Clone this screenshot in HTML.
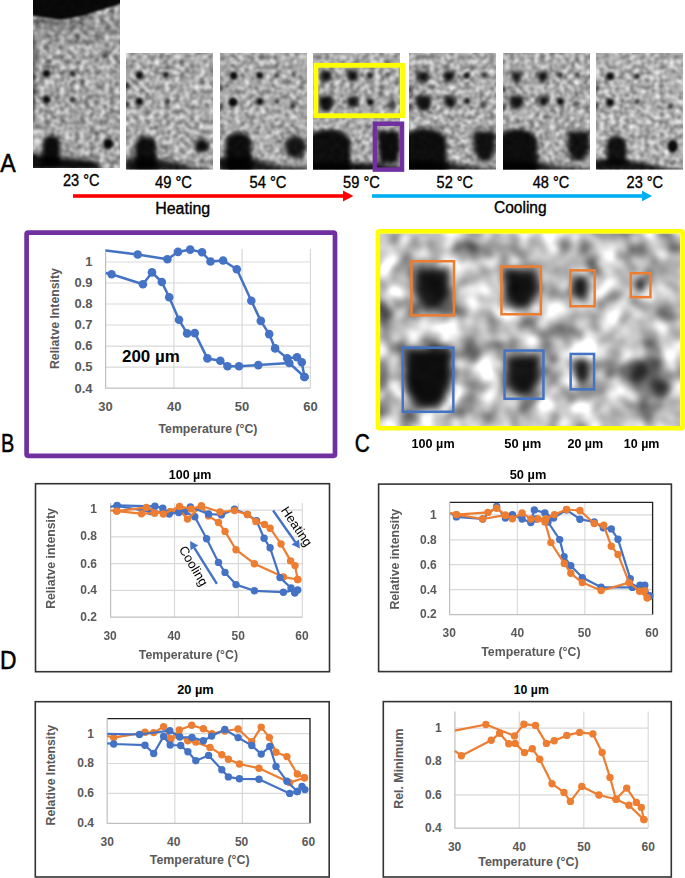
<!DOCTYPE html>
<html><head><meta charset="utf-8"><style>
html,body{margin:0;padding:0;background:#fff;}
svg{display:block;}
text{font-family:"Liberation Sans", sans-serif;}
</style></head><body>
<svg width="685" height="878" viewBox="0 0 685 878" font-family='"Liberation Sans", sans-serif'>
<defs>
<filter id="b1" x="-50%" y="-50%" width="200%" height="200%"><feGaussianBlur stdDeviation="1"/></filter><filter id="b1_4" x="-50%" y="-50%" width="200%" height="200%"><feGaussianBlur stdDeviation="1.4"/></filter><filter id="b1_5" x="-50%" y="-50%" width="200%" height="200%"><feGaussianBlur stdDeviation="1.5"/></filter><filter id="b1_8" x="-50%" y="-50%" width="200%" height="200%"><feGaussianBlur stdDeviation="1.8"/></filter><filter id="b2" x="-50%" y="-50%" width="200%" height="200%"><feGaussianBlur stdDeviation="2"/></filter><filter id="b2_2" x="-50%" y="-50%" width="200%" height="200%"><feGaussianBlur stdDeviation="2.2"/></filter><filter id="b2_5" x="-50%" y="-50%" width="200%" height="200%"><feGaussianBlur stdDeviation="2.5"/></filter><filter id="b3" x="-50%" y="-50%" width="200%" height="200%"><feGaussianBlur stdDeviation="3"/></filter><filter id="b3_5" x="-50%" y="-50%" width="200%" height="200%"><feGaussianBlur stdDeviation="3.5"/></filter><filter id="b4" x="-50%" y="-50%" width="200%" height="200%"><feGaussianBlur stdDeviation="4"/></filter><filter id="b5" x="-50%" y="-50%" width="200%" height="200%"><feGaussianBlur stdDeviation="5"/></filter>
<clipPath id="cp0"><rect x="33" y="0" width="87" height="168"/></clipPath>
<filter id="nz0" x="29" y="-4" width="95" height="176" filterUnits="userSpaceOnUse" color-interpolation-filters="sRGB">
<feTurbulence type="fractalNoise" baseFrequency="0.2" numOctaves="2" seed="3" result="t"/>
<feColorMatrix in="t" type="matrix" values="1 0 0 0 0  1 0 0 0 0  1 0 0 0 0  0 0 0 0 1"/>
<feGaussianBlur stdDeviation="0.9"/>
<feComponentTransfer><feFuncR type="linear" slope="0.92" intercept="0.19"/><feFuncG type="linear" slope="0.92" intercept="0.19"/><feFuncB type="linear" slope="0.92" intercept="0.19"/></feComponentTransfer>
</filter>
<clipPath id="cp1"><rect x="126" y="53" width="87" height="116.4"/></clipPath>
<filter id="nz1" x="122" y="49" width="95" height="124.4" filterUnits="userSpaceOnUse" color-interpolation-filters="sRGB">
<feTurbulence type="fractalNoise" baseFrequency="0.2" numOctaves="2" seed="5" result="t"/>
<feColorMatrix in="t" type="matrix" values="1 0 0 0 0  1 0 0 0 0  1 0 0 0 0  0 0 0 0 1"/>
<feGaussianBlur stdDeviation="0.9"/>
<feComponentTransfer><feFuncR type="linear" slope="0.92" intercept="0.21000000000000002"/><feFuncG type="linear" slope="0.92" intercept="0.21000000000000002"/><feFuncB type="linear" slope="0.92" intercept="0.21000000000000002"/></feComponentTransfer>
</filter>
<clipPath id="cp2"><rect x="220" y="53" width="87" height="116.4"/></clipPath>
<filter id="nz2" x="216" y="49" width="95" height="124.4" filterUnits="userSpaceOnUse" color-interpolation-filters="sRGB">
<feTurbulence type="fractalNoise" baseFrequency="0.2" numOctaves="2" seed="7" result="t"/>
<feColorMatrix in="t" type="matrix" values="1 0 0 0 0  1 0 0 0 0  1 0 0 0 0  0 0 0 0 1"/>
<feGaussianBlur stdDeviation="0.9"/>
<feComponentTransfer><feFuncR type="linear" slope="0.92" intercept="0.21000000000000002"/><feFuncG type="linear" slope="0.92" intercept="0.21000000000000002"/><feFuncB type="linear" slope="0.92" intercept="0.21000000000000002"/></feComponentTransfer>
</filter>
<clipPath id="cp3"><rect x="313" y="53" width="87" height="116.4"/></clipPath>
<filter id="nz3" x="309" y="49" width="95" height="124.4" filterUnits="userSpaceOnUse" color-interpolation-filters="sRGB">
<feTurbulence type="fractalNoise" baseFrequency="0.2" numOctaves="2" seed="9" result="t"/>
<feColorMatrix in="t" type="matrix" values="1 0 0 0 0  1 0 0 0 0  1 0 0 0 0  0 0 0 0 1"/>
<feGaussianBlur stdDeviation="0.9"/>
<feComponentTransfer><feFuncR type="linear" slope="0.92" intercept="0.21000000000000002"/><feFuncG type="linear" slope="0.92" intercept="0.21000000000000002"/><feFuncB type="linear" slope="0.92" intercept="0.21000000000000002"/></feComponentTransfer>
</filter>
<clipPath id="cp4"><rect x="409" y="53" width="87" height="116.4"/></clipPath>
<filter id="nz4" x="405" y="49" width="95" height="124.4" filterUnits="userSpaceOnUse" color-interpolation-filters="sRGB">
<feTurbulence type="fractalNoise" baseFrequency="0.2" numOctaves="2" seed="11" result="t"/>
<feColorMatrix in="t" type="matrix" values="1 0 0 0 0  1 0 0 0 0  1 0 0 0 0  0 0 0 0 1"/>
<feGaussianBlur stdDeviation="0.9"/>
<feComponentTransfer><feFuncR type="linear" slope="0.92" intercept="0.21000000000000002"/><feFuncG type="linear" slope="0.92" intercept="0.21000000000000002"/><feFuncB type="linear" slope="0.92" intercept="0.21000000000000002"/></feComponentTransfer>
</filter>
<clipPath id="cp5"><rect x="503" y="53" width="87" height="116.4"/></clipPath>
<filter id="nz5" x="499" y="49" width="95" height="124.4" filterUnits="userSpaceOnUse" color-interpolation-filters="sRGB">
<feTurbulence type="fractalNoise" baseFrequency="0.2" numOctaves="2" seed="13" result="t"/>
<feColorMatrix in="t" type="matrix" values="1 0 0 0 0  1 0 0 0 0  1 0 0 0 0  0 0 0 0 1"/>
<feGaussianBlur stdDeviation="0.9"/>
<feComponentTransfer><feFuncR type="linear" slope="0.92" intercept="0.21000000000000002"/><feFuncG type="linear" slope="0.92" intercept="0.21000000000000002"/><feFuncB type="linear" slope="0.92" intercept="0.21000000000000002"/></feComponentTransfer>
</filter>
<clipPath id="cp6"><rect x="596" y="53" width="87" height="116.5"/></clipPath>
<filter id="nz6" x="592" y="49" width="95" height="124.5" filterUnits="userSpaceOnUse" color-interpolation-filters="sRGB">
<feTurbulence type="fractalNoise" baseFrequency="0.2" numOctaves="2" seed="15" result="t"/>
<feColorMatrix in="t" type="matrix" values="1 0 0 0 0  1 0 0 0 0  1 0 0 0 0  0 0 0 0 1"/>
<feGaussianBlur stdDeviation="0.9"/>
<feComponentTransfer><feFuncR type="linear" slope="0.92" intercept="0.22999999999999993"/><feFuncG type="linear" slope="0.92" intercept="0.22999999999999993"/><feFuncB type="linear" slope="0.92" intercept="0.22999999999999993"/></feComponentTransfer>
</filter>
<clipPath id="cp7"><rect x="380" y="233.5" width="300" height="192.5"/></clipPath>
<filter id="nz7" x="376" y="229.5" width="308" height="200.5" filterUnits="userSpaceOnUse" color-interpolation-filters="sRGB">
<feTurbulence type="fractalNoise" baseFrequency="0.05" numOctaves="2" seed="21" result="t"/>
<feColorMatrix in="t" type="matrix" values="1 0 0 0 0  1 0 0 0 0  1 0 0 0 0  0 0 0 0 1"/>
<feGaussianBlur stdDeviation="2.5"/>
<feComponentTransfer><feFuncR type="linear" slope="1.3" intercept="0.09999999999999998"/><feFuncG type="linear" slope="1.3" intercept="0.09999999999999998"/><feFuncB type="linear" slope="1.3" intercept="0.09999999999999998"/></feComponentTransfer>
</filter>
</defs>
<rect width="685" height="878" fill="#fff"/>
<g clip-path="url(#cp0)">
<rect x="29" y="-4" width="95" height="176" filter="url(#nz0)"/>
<g filter="url(#b1)"><polygon points="30,-5 123,-5 123,3 119,4.2 116,5.5 106,8.3 95,11.8 85.5,15.3 71.6,18 57.7,19.4 43.9,17.3 30,15.3" fill="#000" opacity="0.95"/></g>
<g filter="url(#b3)"><polygon points="33,16 55,19 75,19 90,14 90,22 60,27 33,25" fill="#000" opacity="0.3"/><ellipse cx="37" cy="142" rx="5" ry="12" fill="#fff" opacity="0.35"/></g>
<g filter="url(#b4)"><polygon points="33,28 120,20 120,40 33,45" fill="#000" opacity="0.12"/></g>
<g filter="url(#b1_5)"><ellipse cx="46.5" cy="73.5" rx="3.8" ry="3.8" fill="#000" opacity="0.95"/><ellipse cx="72.6" cy="73.5" rx="3.0" ry="3.0" fill="#000" opacity="0.8"/><ellipse cx="46.5" cy="99.6" rx="3.8" ry="3.8" fill="#000" opacity="0.95"/><ellipse cx="72.6" cy="99.6" rx="2.8" ry="2.8" fill="#000" opacity="0.75"/><ellipse cx="104.5" cy="55" rx="2.7" ry="2.5" fill="#000" opacity="0.55"/><ellipse cx="48" cy="62" rx="3.5" ry="2.5" fill="#000" opacity="0.45"/></g>
<g filter="url(#b2)"><path d="M42.5,166 L42.5,143.5 A8.75,8 0 0 1 60,143.5 L60,166 Z" fill="#000" opacity="0.93"/><polygon points="30,152 40,155 60,158 80,159 93,161 100,165 100,170 30,170" fill="#000" opacity="0.92"/></g>
<g filter="url(#b1_8)"><ellipse cx="108.4" cy="143.6" rx="5" ry="5.2" fill="#000" opacity="0.95"/></g>
<g filter="url(#b1_4)"><ellipse cx="33.5" cy="80" rx="1.8" ry="45.3" fill="#000" opacity="0.53"/></g>
</g>
<g clip-path="url(#cp1)">
<rect x="122" y="49" width="95" height="124.4" filter="url(#nz1)"/>
<g filter="url(#b1_4)"><ellipse cx="139.6" cy="75.5" rx="3.6" ry="3.8" fill="#000" opacity="0.95"/><ellipse cx="166" cy="74.8" rx="3.0" ry="3.0" fill="#000" opacity="0.89"/><ellipse cx="139.6" cy="101.6" rx="3.6" ry="3.8" fill="#000" opacity="0.95"/><ellipse cx="166.9" cy="101.4" rx="2.5" ry="2.5" fill="#000" opacity="0.73"/><ellipse cx="127" cy="85" rx="2.1" ry="3.3" fill="#000" opacity="0.73"/><ellipse cx="127" cy="104.5" rx="2.1" ry="3.3" fill="#000" opacity="0.73"/></g>
<g filter="url(#b2_2)"><path d="M135,170 L135,145.5 A10.75,9 0 0 1 156.5,145.5 L156.5,170 Z" fill="#000" opacity="0.92"/></g>
<g filter="url(#b2)"><ellipse cx="201.6" cy="145.8" rx="6.8" ry="7.3" fill="#000" opacity="0.92"/></g>
<g filter="url(#b2_5)"><polygon points="124,158 150,158 170,161 185,165 200,168 215,170 215,172 124,172" fill="#000" opacity="0.85"/></g>
</g>
<g clip-path="url(#cp2)">
<rect x="216" y="49" width="95" height="124.4" filter="url(#nz2)"/>
<g filter="url(#b1_4)"><ellipse cx="233.6" cy="75.5" rx="4.0" ry="4.0" fill="#000" opacity="0.95"/><ellipse cx="259.8" cy="75.5" rx="3.6" ry="3.6" fill="#000" opacity="0.95"/><ellipse cx="277" cy="75.5" rx="2.1" ry="2.1" fill="#000" opacity="0.63"/><ellipse cx="293.6" cy="74.8" rx="2.1" ry="2.1" fill="#000" opacity="0.63"/><ellipse cx="233" cy="102.3" rx="4.5" ry="4.5" fill="#000" opacity="0.95"/><ellipse cx="259.8" cy="101.4" rx="3.5" ry="3.5" fill="#000" opacity="0.95"/><ellipse cx="277" cy="101.6" rx="2.6" ry="2.6" fill="#000" opacity="0.79"/><ellipse cx="292.9" cy="105.9" rx="2.6" ry="2.6" fill="#000" opacity="0.79"/><ellipse cx="221" cy="88" rx="2.1" ry="3.8" fill="#000" opacity="0.63"/><ellipse cx="221" cy="107" rx="2.1" ry="3.8" fill="#000" opacity="0.63"/></g>
<g filter="url(#b2_2)"><path d="M225.5,172 L225.5,142.5 A13.0,10 0 0 1 251.5,142.5 L251.5,172 Z" fill="#000" opacity="0.92"/></g>
<g filter="url(#b2_5)"><ellipse cx="295.5" cy="147" rx="10.5" ry="11.5" fill="#000" opacity="0.88"/><polygon points="218,157 250,157 262,162 280,166 309,168 309,172 218,172" fill="#000" opacity="0.88"/></g>
</g>
<g clip-path="url(#cp3)">
<rect x="309" y="49" width="95" height="124.4" filter="url(#nz3)"/>
<g filter="url(#b2)"><polygon points="320.5,71.0 331.5,71.0 331.5,78.2 328.5,82.0 323.5,82.0 320.5,78.2" fill="#000" opacity="0.9"/><polygon points="347.2,70.2 357.8,70.2 357.8,77.4 354.9,81.2 350.1,81.2 347.2,77.4" fill="#000" opacity="0.9"/><polygon points="319.2,95.5 332.8,95.5 332.8,105.9 329.1,111.5 322.9,111.5 319.2,105.9" fill="#000" opacity="0.9"/><polygon points="347.3,96.5 358.3,96.5 358.3,103.7 355.3,107.5 350.3,107.5 347.3,103.7" fill="#000" opacity="0.9"/><polygon points="377,131 399,131 400,150 397,163 380,163" fill="#000" opacity="0.93"/><polygon points="310,163 372,163 400,167 400,172 310,172" fill="#000" opacity="0.9"/></g>
<g filter="url(#b1_4)"><ellipse cx="370" cy="75.7" rx="3.1" ry="3.1" fill="#000" opacity="0.84"/><ellipse cx="387.8" cy="75" rx="2.3" ry="2.3" fill="#000" opacity="0.63"/><ellipse cx="370.3" cy="102" rx="3.5" ry="3.5" fill="#000" opacity="0.95"/><ellipse cx="391.5" cy="105" rx="4.8" ry="4.8" fill="#000" opacity="0.51"/><ellipse cx="380.5" cy="93.3" rx="2.5" ry="2.5" fill="#000" opacity="0.47"/></g>
<g filter="url(#b2_2)"><path d="M306,175 L306,142.5 A22.25,13 0 0 1 350.5,142.5 L350.5,175 Z" fill="#000" opacity="0.92"/></g>
</g>
<g clip-path="url(#cp4)">
<rect x="405" y="49" width="95" height="124.4" filter="url(#nz4)"/>
<g filter="url(#b2)"><polygon points="417.5,71.2 428.5,71.2 428.5,78.7 425.5,82.8 420.5,82.8 417.5,78.7" fill="#000" opacity="0.9"/><polygon points="443.5,70.7 454.1,70.7 454.1,77.9 451.2,81.7 446.4,81.7 443.5,77.9" fill="#000" opacity="0.9"/><polygon points="415.9,95.5 430.9,95.5 430.9,105.2 426.8,110.5 420.0,110.5 415.9,105.2" fill="#000" opacity="0.9"/><polygon points="444.7,96.5 455.7,96.5 455.7,104.0 452.7,108.1 447.7,108.1 444.7,104.0" fill="#000" opacity="0.9"/></g>
<g filter="url(#b1_4)"><ellipse cx="466.8" cy="75.5" rx="3.1" ry="3.1" fill="#000" opacity="0.89"/><ellipse cx="484" cy="74.8" rx="2.6" ry="2.6" fill="#000" opacity="0.73"/><ellipse cx="467.1" cy="101" rx="3.1" ry="3.1" fill="#000" opacity="0.89"/><ellipse cx="484" cy="104.5" rx="3.3" ry="3.3" fill="#000" opacity="0.47"/><ellipse cx="410" cy="90" rx="2.1" ry="3.8" fill="#000" opacity="0.63"/><ellipse cx="410" cy="107" rx="2.1" ry="3.8" fill="#000" opacity="0.63"/></g>
<g filter="url(#b2_2)"><path d="M403,175 L403,141.5 A21.75,13 0 0 1 446.5,141.5 L446.5,175 Z" fill="#000" opacity="0.92"/></g>
<g filter="url(#b2_5)"><polygon points="473.5,131.0 495.5,131.0 495.5,150.5 489.4,161.0 479.6,161.0 473.5,150.5" fill="#000" opacity="0.9"/><polygon points="406,161 450,162 465,166 498,169 498,172 406,172" fill="#000" opacity="0.85"/></g>
</g>
<g clip-path="url(#cp5)">
<rect x="499" y="49" width="95" height="124.4" filter="url(#nz5)"/>
<g filter="url(#b2)"><polygon points="511.8,72.0 521.4,72.0 521.4,78.5 518.8,82.0 514.4,82.0 511.8,78.5" fill="#000" opacity="0.9"/><polygon points="538.0,71.2 547.6,71.2 547.6,77.7 545.0,81.2 540.6,81.2 538.0,77.7" fill="#000" opacity="0.9"/><polygon points="510.1,95.8 523.1,95.8 523.1,104.2 519.5,108.8 513.7,108.8 510.1,104.2" fill="#000" opacity="0.9"/><polygon points="538.7,96.0 548.3,96.0 548.3,102.5 545.7,106.0 541.3,106.0 538.7,102.5" fill="#000" opacity="0.9"/></g>
<g filter="url(#b1_4)"><ellipse cx="560.4" cy="74.8" rx="2.6" ry="2.6" fill="#000" opacity="0.79"/><ellipse cx="577.3" cy="74.8" rx="2.2" ry="2.2" fill="#000" opacity="0.63"/><ellipse cx="560.4" cy="101.4" rx="3.5" ry="3.5" fill="#000" opacity="0.95"/><ellipse cx="576" cy="104.5" rx="3.3" ry="3.3" fill="#000" opacity="0.47"/><ellipse cx="504" cy="90" rx="2.1" ry="3.8" fill="#000" opacity="0.63"/><ellipse cx="504" cy="107" rx="2.1" ry="3.8" fill="#000" opacity="0.63"/></g>
<g filter="url(#b2_2)"><path d="M497,175 L497,142 A20.25,13 0 0 1 537.5,142 L537.5,175 Z" fill="#000" opacity="0.92"/></g>
<g filter="url(#b2_5)"><polygon points="567.5,131.0 589.5,131.0 589.5,150.5 583.5,161.0 573.5,161.0 567.5,150.5" fill="#000" opacity="0.9"/><polygon points="500,161 540,162 555,166 592,169 592,172 500,172" fill="#000" opacity="0.85"/></g>
</g>
<g clip-path="url(#cp6)">
<rect x="592" y="49" width="95" height="124.5" filter="url(#nz6)"/>
<g filter="url(#b1_4)"><ellipse cx="610.1" cy="76.3" rx="3.9" ry="3.9" fill="#000" opacity="0.95"/><ellipse cx="637" cy="76.3" rx="2.9" ry="2.9" fill="#000" opacity="0.84"/><ellipse cx="610.1" cy="102.4" rx="3.9" ry="3.9" fill="#000" opacity="0.95"/><ellipse cx="637.2" cy="101.7" rx="2.5" ry="2.5" fill="#000" opacity="0.73"/><ellipse cx="670.4" cy="106" rx="2.5" ry="2.5" fill="#000" opacity="0.68"/><ellipse cx="597" cy="88" rx="2.1" ry="3.8" fill="#000" opacity="0.63"/><ellipse cx="597" cy="106" rx="2.1" ry="3.8" fill="#000" opacity="0.63"/></g>
<g filter="url(#b2_2)"><path d="M606.5,165 L606.5,144.5 A10.0,9 0 0 1 626.5,144.5 L626.5,165 Z" fill="#000" opacity="0.9"/></g>
<g filter="url(#b1_8)"><ellipse cx="672.8" cy="146" rx="5.3" ry="6.8" fill="#000" opacity="0.93"/></g>
<g filter="url(#b2)"><polygon points="593,159 625,160 645,163 660,167 686,169.5 686,172 593,172" fill="#000" opacity="0.88"/></g>
</g>
<rect x="315.9" y="65.3" width="86.7" height="50.4" fill="none" stroke="#FFFF00" stroke-width="4.8"/>
<rect x="374.9" y="123.7" width="27.1" height="45.9" fill="none" stroke="#7030A0" stroke-width="4.5"/>
<text x="81.2" y="185.7" font-size="16" text-anchor="middle" font-weight="normal" fill="#000" textLength="36.5" lengthAdjust="spacingAndGlyphs" stroke="#000" stroke-width="0.35">23 °C</text>
<text x="173.5" y="187.9" font-size="16" text-anchor="middle" font-weight="normal" fill="#000" textLength="37" lengthAdjust="spacingAndGlyphs" stroke="#000" stroke-width="0.35">49 °C</text>
<text x="268.0" y="187.9" font-size="16" text-anchor="middle" font-weight="normal" fill="#000" textLength="37" lengthAdjust="spacingAndGlyphs" stroke="#000" stroke-width="0.35">54 °C</text>
<text x="361.5" y="187.9" font-size="16" text-anchor="middle" font-weight="normal" fill="#000" textLength="36.8" lengthAdjust="spacingAndGlyphs" stroke="#000" stroke-width="0.35">59 °C</text>
<text x="454.8" y="187.9" font-size="16" text-anchor="middle" font-weight="normal" fill="#000" textLength="36.5" lengthAdjust="spacingAndGlyphs" stroke="#000" stroke-width="0.35">52 °C</text>
<text x="551.0" y="187.9" font-size="16" text-anchor="middle" font-weight="normal" fill="#000" textLength="36.5" lengthAdjust="spacingAndGlyphs" stroke="#000" stroke-width="0.35">48 °C</text>
<text x="644.8" y="187.9" font-size="16" text-anchor="middle" font-weight="normal" fill="#000" textLength="36.5" lengthAdjust="spacingAndGlyphs" stroke="#000" stroke-width="0.35">23 °C</text>
<rect x="73" y="194.2" width="271" height="3.6" fill="#FF0000"/>
<polygon points="343,190.6 353.4,196 343,201.4" fill="#FF0000"/>
<rect x="372" y="194.2" width="271" height="3.6" fill="#00B0F0"/>
<polygon points="642,190.8 652.2,196 642,201.2" fill="#00B0F0"/>
<text x="155.2" y="213.6" font-size="16" text-anchor="start" font-weight="normal" fill="#000" textLength="55" lengthAdjust="spacingAndGlyphs" stroke="#000" stroke-width="0.35">Heating</text>
<text x="494.0" y="213.0" font-size="16" text-anchor="start" font-weight="normal" fill="#000" textLength="52.6" lengthAdjust="spacingAndGlyphs" stroke="#000" stroke-width="0.35">Cooling</text>
<text x="0.3" y="171.8" font-size="25" text-anchor="start" font-weight="normal" fill="#000" textLength="15.5" lengthAdjust="spacingAndGlyphs" stroke="#000" stroke-width="0.5">A</text>
<text x="1.0" y="452.0" font-size="25" text-anchor="start" font-weight="normal" fill="#000" textLength="13.3" lengthAdjust="spacingAndGlyphs" stroke="#000" stroke-width="0.5">B</text>
<text x="354.8" y="452.4" font-size="25" text-anchor="start" font-weight="normal" fill="#000" textLength="15" lengthAdjust="spacingAndGlyphs" stroke="#000" stroke-width="0.5">C</text>
<text x="0.0" y="669.0" font-size="25" text-anchor="start" font-weight="normal" fill="#000" textLength="16.5" lengthAdjust="spacingAndGlyphs" stroke="#000" stroke-width="0.5">D</text>
<rect x="26.6" y="232.6" width="308.4" height="223.2" rx="1.5" fill="none" stroke="#7030A0" stroke-width="4.7"/>
<line x1="105.6" x2="310.4" y1="367.1" y2="367.1" stroke="#D9D9D9" stroke-width="1.2"/>
<line x1="105.6" x2="310.4" y1="346.1" y2="346.1" stroke="#D9D9D9" stroke-width="1.2"/>
<line x1="105.6" x2="310.4" y1="325.0" y2="325.0" stroke="#D9D9D9" stroke-width="1.2"/>
<line x1="105.6" x2="310.4" y1="304.0" y2="304.0" stroke="#D9D9D9" stroke-width="1.2"/>
<line x1="105.6" x2="310.4" y1="283.0" y2="283.0" stroke="#D9D9D9" stroke-width="1.2"/>
<line x1="105.6" x2="310.4" y1="262.0" y2="262.0" stroke="#D9D9D9" stroke-width="1.2"/>
<line x1="173.9" x2="173.9" y1="249" y2="388.1" stroke="#D9D9D9" stroke-width="1.2"/>
<line x1="242.1" x2="242.1" y1="249" y2="388.1" stroke="#D9D9D9" stroke-width="1.2"/>
<line x1="310.4" x2="310.4" y1="249" y2="388.1" stroke="#D9D9D9" stroke-width="1.2"/>
<line x1="105.6" x2="105.6" y1="249" y2="388.6" stroke="#BFBFBF" stroke-width="1.2"/>
<line x1="105.6" x2="310.4" y1="388.1" y2="388.1" stroke="#BFBFBF" stroke-width="1.2"/>
<text x="92.5" y="265.6" font-size="13" text-anchor="end" font-weight="bold" fill="#595959" >1</text>
<text x="92.5" y="286.9" font-size="13" text-anchor="end" font-weight="bold" fill="#595959" >0.9</text>
<text x="92.5" y="308.0" font-size="13" text-anchor="end" font-weight="bold" fill="#595959" >0.8</text>
<text x="92.5" y="329.3" font-size="13" text-anchor="end" font-weight="bold" fill="#595959" >0.7</text>
<text x="92.5" y="350.3" font-size="13" text-anchor="end" font-weight="bold" fill="#595959" >0.6</text>
<text x="92.5" y="371.3" font-size="13" text-anchor="end" font-weight="bold" fill="#595959" >0.5</text>
<text x="92.5" y="392.6" font-size="13" text-anchor="end" font-weight="bold" fill="#595959" >0.4</text>
<text x="105.4" y="410.8" font-size="13" text-anchor="middle" font-weight="bold" fill="#595959" >30</text>
<text x="174.2" y="410.8" font-size="13" text-anchor="middle" font-weight="bold" fill="#595959" >40</text>
<text x="242.0" y="410.8" font-size="13" text-anchor="middle" font-weight="bold" fill="#595959" >50</text>
<text x="310.4" y="410.8" font-size="13" text-anchor="middle" font-weight="bold" fill="#595959" >60</text>
<text x="158.5" y="432.8" font-size="12.5" text-anchor="start" font-weight="bold" fill="#595959" textLength="98.9" lengthAdjust="spacingAndGlyphs" >Temperature (°C)</text>
<text transform="translate(59,318.6) rotate(-90)" x="0" y="0" font-size="12.5" text-anchor="middle" font-weight="bold" fill="#595959" textLength="100.8" lengthAdjust="spacingAndGlyphs">Reliatve Intensity</text>
<text x="122.0" y="362.0" font-size="16" text-anchor="start" font-weight="bold" fill="#000" textLength="57.7" lengthAdjust="spacingAndGlyphs" >200 µm</text>
<polyline points="105.8,250.5 137.7,254.5 167.4,259.3 178.0,251.9 190.2,249.6 202.0,252.3 210.5,261.5 223.1,260.5 236.8,269.3 251.3,300.8 260.8,320.9 269.2,334.1 275.1,348.4 287.2,358.2 297.0,357.2 301.8,362.3 304.5,377.0" fill="none" stroke="#4472C4" stroke-width="2.5" stroke-linejoin="round"/>
<circle cx="137.7" cy="254.5" r="4.3" fill="#4472C4"/>
<circle cx="167.4" cy="259.3" r="4.3" fill="#4472C4"/>
<circle cx="178.0" cy="251.9" r="4.3" fill="#4472C4"/>
<circle cx="190.2" cy="249.6" r="4.3" fill="#4472C4"/>
<circle cx="202.0" cy="252.3" r="4.3" fill="#4472C4"/>
<circle cx="210.5" cy="261.5" r="4.3" fill="#4472C4"/>
<circle cx="223.1" cy="260.5" r="4.3" fill="#4472C4"/>
<circle cx="236.8" cy="269.3" r="4.3" fill="#4472C4"/>
<circle cx="251.3" cy="300.8" r="4.3" fill="#4472C4"/>
<circle cx="260.8" cy="320.9" r="4.3" fill="#4472C4"/>
<circle cx="269.2" cy="334.1" r="4.3" fill="#4472C4"/>
<circle cx="275.1" cy="348.4" r="4.3" fill="#4472C4"/>
<circle cx="287.2" cy="358.2" r="4.3" fill="#4472C4"/>
<circle cx="297.0" cy="357.2" r="4.3" fill="#4472C4"/>
<circle cx="301.8" cy="362.3" r="4.3" fill="#4472C4"/>
<circle cx="304.5" cy="377.0" r="4.3" fill="#4472C4"/>
<polyline points="105.8,273.0 111.6,274.3 142.9,284.3 152.0,272.4 161.8,282.0 169.2,297.3 179.0,319.8 187.1,333.4 194.8,333.1 207.4,358.4 220.3,360.7 227.5,366.3 239.0,366.3 258.3,365.1 289.3,363.0 304.5,377.0" fill="none" stroke="#4472C4" stroke-width="2.5" stroke-linejoin="round"/>
<circle cx="111.6" cy="274.3" r="4.3" fill="#4472C4"/>
<circle cx="142.9" cy="284.3" r="4.3" fill="#4472C4"/>
<circle cx="152.0" cy="272.4" r="4.3" fill="#4472C4"/>
<circle cx="161.8" cy="282.0" r="4.3" fill="#4472C4"/>
<circle cx="169.2" cy="297.3" r="4.3" fill="#4472C4"/>
<circle cx="179.0" cy="319.8" r="4.3" fill="#4472C4"/>
<circle cx="187.1" cy="333.4" r="4.3" fill="#4472C4"/>
<circle cx="194.8" cy="333.1" r="4.3" fill="#4472C4"/>
<circle cx="207.4" cy="358.4" r="4.3" fill="#4472C4"/>
<circle cx="220.3" cy="360.7" r="4.3" fill="#4472C4"/>
<circle cx="227.5" cy="366.3" r="4.3" fill="#4472C4"/>
<circle cx="239.0" cy="366.3" r="4.3" fill="#4472C4"/>
<circle cx="258.3" cy="365.1" r="4.3" fill="#4472C4"/>
<circle cx="289.3" cy="363.0" r="4.3" fill="#4472C4"/>
<circle cx="304.5" cy="377.0" r="4.3" fill="#4472C4"/>
<g clip-path="url(#cp7)">
<rect x="376" y="229.5" width="308" height="200.5" filter="url(#nz7)"/>
<g filter="url(#b4)"><polygon points="415.0,267.5 450.0,267.5 450.0,295.4 440.4,310.5 424.6,310.5 415.0,295.4" fill="#000" opacity="0.9"/><polygon points="505.5,268.5 537.5,268.5 537.5,295.1 528.7,309.5 514.3,309.5 505.5,295.1" fill="#000" opacity="0.9"/><polygon points="404.5,348.0 451.5,348.0 451.5,387.0 438.6,408.0 417.4,408.0 404.5,387.0" fill="#000" opacity="0.93"/><polygon points="506.0,355.0 540.0,355.0 540.0,381.0 530.6,395.0 515.4,395.0 506.0,381.0" fill="#000" opacity="0.9"/></g>
<g filter="url(#b3_5)"><ellipse cx="581" cy="287" rx="7.5" ry="12" fill="#000" opacity="0.85"/><ellipse cx="582" cy="371" rx="7.5" ry="12" fill="#000" opacity="0.85"/><ellipse cx="383" cy="312" rx="5" ry="14" fill="#000" opacity="0.55"/><ellipse cx="383" cy="378" rx="5" ry="13" fill="#000" opacity="0.55"/></g>
<g filter="url(#b3)"><ellipse cx="640" cy="285" rx="5.5" ry="7" fill="#000" opacity="0.8"/><ellipse cx="640" cy="372" rx="8" ry="10" fill="#000" opacity="0.5"/><ellipse cx="662" cy="390" rx="8" ry="9" fill="#000" opacity="0.5"/><ellipse cx="655" cy="362" rx="6" ry="6" fill="#000" opacity="0.4"/></g>
<g filter="url(#b5)"><ellipse cx="650" cy="380" rx="20" ry="22" fill="#000" opacity="0.5"/></g>
</g>
<rect x="377.9" y="231.2" width="304.7" height="197" rx="1.5" fill="none" stroke="#FFFF00" stroke-width="4.6"/>
<rect x="411.45" y="261.25" width="42.50" height="54.10" fill="none" stroke="#ED7D31" stroke-width="2.5"/>
<rect x="501.45" y="266.55" width="39.40" height="47.70" fill="none" stroke="#ED7D31" stroke-width="2.5"/>
<rect x="570.35" y="270.35" width="24.30" height="35.90" fill="none" stroke="#ED7D31" stroke-width="2.5"/>
<rect x="630.75" y="273.25" width="19.70" height="23.90" fill="none" stroke="#ED7D31" stroke-width="2.5"/>
<rect x="402.75" y="347.65" width="50.60" height="64.10" fill="none" stroke="#4472C4" stroke-width="2.5"/>
<rect x="504.55" y="350.55" width="38.90" height="48.20" fill="none" stroke="#4472C4" stroke-width="2.5"/>
<rect x="570.65" y="353.95" width="23.40" height="35.40" fill="none" stroke="#4472C4" stroke-width="2.5"/>
<text x="411.6" y="448.1" font-size="12" text-anchor="start" font-weight="bold" fill="#000" textLength="43.0" lengthAdjust="spacingAndGlyphs" >100 µm</text>
<text x="504.2" y="448.1" font-size="12" text-anchor="start" font-weight="bold" fill="#000" textLength="37.0" lengthAdjust="spacingAndGlyphs" >50 µm</text>
<text x="567.4" y="448.1" font-size="12" text-anchor="start" font-weight="bold" fill="#000" textLength="35.9" lengthAdjust="spacingAndGlyphs" >20 µm</text>
<text x="623.8" y="448.1" font-size="12" text-anchor="start" font-weight="bold" fill="#000" textLength="35.6" lengthAdjust="spacingAndGlyphs" >10 µm</text>
<rect x="35.5" y="483.7" width="294.0" height="188.00000000000006" fill="none" stroke="#333" stroke-width="1.6"/>
<text x="168.8" y="479.0" font-size="12" text-anchor="start" font-weight="bold" fill="#000" textLength="42.6" lengthAdjust="spacingAndGlyphs" >100 µm</text>
<line x1="110.6" x2="302.3" y1="590.4" y2="590.4" stroke="#D9D9D9" stroke-width="1.2"/>
<line x1="110.6" x2="302.3" y1="563.6" y2="563.6" stroke="#D9D9D9" stroke-width="1.2"/>
<line x1="110.6" x2="302.3" y1="536.9" y2="536.9" stroke="#D9D9D9" stroke-width="1.2"/>
<line x1="110.6" x2="302.3" y1="510.1" y2="510.1" stroke="#D9D9D9" stroke-width="1.2"/>
<line x1="174.5" x2="174.5" y1="503.0" y2="617.1" stroke="#D9D9D9" stroke-width="1.2"/>
<line x1="238.4" x2="238.4" y1="503.0" y2="617.1" stroke="#D9D9D9" stroke-width="1.2"/>
<line x1="302.3" x2="302.3" y1="503.0" y2="617.1" stroke="#D9D9D9" stroke-width="1.2"/>
<line x1="110.6" x2="110.6" y1="503.0" y2="617.6" stroke="#BFBFBF" stroke-width="1.2"/>
<line x1="110.6" x2="302.3" y1="617.1" y2="617.1" stroke="#BFBFBF" stroke-width="1.2"/>
<text x="97.0" y="620.6" font-size="12" text-anchor="end" font-weight="bold" fill="#595959" >0.2</text>
<text x="97.0" y="593.8" font-size="12" text-anchor="end" font-weight="bold" fill="#595959" >0.4</text>
<text x="97.0" y="567.5" font-size="12" text-anchor="end" font-weight="bold" fill="#595959" >0.6</text>
<text x="97.0" y="540.0" font-size="12" text-anchor="end" font-weight="bold" fill="#595959" >0.8</text>
<text x="97.0" y="513.0" font-size="12" text-anchor="end" font-weight="bold" fill="#595959" >1</text>
<text x="110.1" y="639.7" font-size="12" text-anchor="middle" font-weight="bold" fill="#595959" >30</text>
<text x="174.1" y="639.7" font-size="12" text-anchor="middle" font-weight="bold" fill="#595959" >40</text>
<text x="238.2" y="639.7" font-size="12" text-anchor="middle" font-weight="bold" fill="#595959" >50</text>
<text x="302.0" y="639.7" font-size="12" text-anchor="middle" font-weight="bold" fill="#595959" >60</text>
<text x="138.8" y="658.7" font-size="12" text-anchor="start" font-weight="bold" fill="#595959" textLength="99.2" lengthAdjust="spacingAndGlyphs" >Temperature (°C)</text>
<text transform="translate(54.6,558.5) rotate(-90)" x="0" y="0" font-size="12" text-anchor="middle" font-weight="bold" fill="#595959" textLength="100.5" lengthAdjust="spacingAndGlyphs">Reliatve intensity</text>
<svg x="104.6" y="497.0" width="203.7" height="126.1" overflow="hidden"><g transform="translate(-104.6,-497.0)">
<polyline points="294.8,592.7 297.7,589.9 283.4,592.2 254.4,590.8 236.0,584.6 225.0,572.4 218.5,562.4 206.6,538.7 194.8,516.8 185.0,512.0 170.0,512.0 150.5,511.6 117.0,506.0" fill="none" stroke="#4472C4" stroke-width="2.2" stroke-linejoin="round"/>
<circle cx="294.8" cy="592.7" r="3.7" fill="#4472C4"/>
<circle cx="297.7" cy="589.9" r="3.7" fill="#4472C4"/>
<circle cx="283.4" cy="592.2" r="3.7" fill="#4472C4"/>
<circle cx="254.4" cy="590.8" r="3.7" fill="#4472C4"/>
<circle cx="236.0" cy="584.6" r="3.7" fill="#4472C4"/>
<circle cx="225.0" cy="572.4" r="3.7" fill="#4472C4"/>
<circle cx="218.5" cy="562.4" r="3.7" fill="#4472C4"/>
<circle cx="206.6" cy="538.7" r="3.7" fill="#4472C4"/>
<circle cx="194.8" cy="516.8" r="3.7" fill="#4472C4"/>
<circle cx="185.0" cy="512.0" r="3.7" fill="#4472C4"/>
<circle cx="170.0" cy="512.0" r="3.7" fill="#4472C4"/>
<circle cx="150.5" cy="511.6" r="3.7" fill="#4472C4"/>
<circle cx="117.0" cy="506.0" r="3.7" fill="#4472C4"/>
<polyline points="297.7,579.5 283.4,577.0 254.4,563.7 236.0,549.7 225.0,531.4 218.5,522.5 208.5,515.9 201.4,506.0 187.5,519.1 179.5,510.0 170.0,511.8 154.6,513.2 141.5,513.7 116.7,511.1" fill="none" stroke="#ED7D31" stroke-width="2.2" stroke-linejoin="round"/>
<circle cx="297.7" cy="579.5" r="3.7" fill="#ED7D31"/>
<circle cx="283.4" cy="577.0" r="3.7" fill="#ED7D31"/>
<circle cx="254.4" cy="563.7" r="3.7" fill="#ED7D31"/>
<circle cx="236.0" cy="549.7" r="3.7" fill="#ED7D31"/>
<circle cx="225.0" cy="531.4" r="3.7" fill="#ED7D31"/>
<circle cx="218.5" cy="522.5" r="3.7" fill="#ED7D31"/>
<circle cx="208.5" cy="515.9" r="3.7" fill="#ED7D31"/>
<circle cx="201.4" cy="506.0" r="3.7" fill="#ED7D31"/>
<circle cx="187.5" cy="519.1" r="3.7" fill="#ED7D31"/>
<circle cx="179.5" cy="510.0" r="3.7" fill="#ED7D31"/>
<circle cx="170.0" cy="511.8" r="3.7" fill="#ED7D31"/>
<circle cx="154.6" cy="513.2" r="3.7" fill="#ED7D31"/>
<circle cx="141.5" cy="513.7" r="3.7" fill="#ED7D31"/>
<circle cx="116.7" cy="511.1" r="3.7" fill="#ED7D31"/>
<polyline points="110.4,506.8 117.1,505.4 154.9,506.3 162.8,508.1 169.2,514.0 178.7,512.5 190.4,507.0 208.5,514.0 221.4,514.9 234.5,509.2 247.4,514.5 256.5,520.6 264.1,538.3 270.1,547.8 280.0,577.6 291.0,588.0 294.8,592.7" fill="none" stroke="#4472C4" stroke-width="2.2" stroke-linejoin="round"/>
<circle cx="117.1" cy="505.4" r="3.7" fill="#4472C4"/>
<circle cx="154.9" cy="506.3" r="3.7" fill="#4472C4"/>
<circle cx="162.8" cy="508.1" r="3.7" fill="#4472C4"/>
<circle cx="169.2" cy="514.0" r="3.7" fill="#4472C4"/>
<circle cx="178.7" cy="512.5" r="3.7" fill="#4472C4"/>
<circle cx="190.4" cy="507.0" r="3.7" fill="#4472C4"/>
<circle cx="208.5" cy="514.0" r="3.7" fill="#4472C4"/>
<circle cx="221.4" cy="514.9" r="3.7" fill="#4472C4"/>
<circle cx="234.5" cy="509.2" r="3.7" fill="#4472C4"/>
<circle cx="247.4" cy="514.5" r="3.7" fill="#4472C4"/>
<circle cx="256.5" cy="520.6" r="3.7" fill="#4472C4"/>
<circle cx="264.1" cy="538.3" r="3.7" fill="#4472C4"/>
<circle cx="270.1" cy="547.8" r="3.7" fill="#4472C4"/>
<circle cx="280.0" cy="577.6" r="3.7" fill="#4472C4"/>
<circle cx="291.0" cy="588.0" r="3.7" fill="#4472C4"/>
<circle cx="294.8" cy="592.7" r="3.7" fill="#4472C4"/>
<polyline points="110.4,510.3 116.7,511.1 146.3,507.4 163.4,514.0 179.5,506.4 191.1,508.9 201.4,506.0 220.0,512.0 234.5,510.6 247.4,514.5 255.9,521.6 264.5,524.4 270.1,528.2 281.0,544.0 290.6,560.9 295.0,565.6 297.7,579.5" fill="none" stroke="#ED7D31" stroke-width="2.2" stroke-linejoin="round"/>
<circle cx="116.7" cy="511.1" r="3.7" fill="#ED7D31"/>
<circle cx="146.3" cy="507.4" r="3.7" fill="#ED7D31"/>
<circle cx="163.4" cy="514.0" r="3.7" fill="#ED7D31"/>
<circle cx="179.5" cy="506.4" r="3.7" fill="#ED7D31"/>
<circle cx="191.1" cy="508.9" r="3.7" fill="#ED7D31"/>
<circle cx="201.4" cy="506.0" r="3.7" fill="#ED7D31"/>
<circle cx="220.0" cy="512.0" r="3.7" fill="#ED7D31"/>
<circle cx="234.5" cy="510.6" r="3.7" fill="#ED7D31"/>
<circle cx="247.4" cy="514.5" r="3.7" fill="#ED7D31"/>
<circle cx="255.9" cy="521.6" r="3.7" fill="#ED7D31"/>
<circle cx="264.5" cy="524.4" r="3.7" fill="#ED7D31"/>
<circle cx="270.1" cy="528.2" r="3.7" fill="#ED7D31"/>
<circle cx="281.0" cy="544.0" r="3.7" fill="#ED7D31"/>
<circle cx="290.6" cy="560.9" r="3.7" fill="#ED7D31"/>
<circle cx="295.0" cy="565.6" r="3.7" fill="#ED7D31"/>
<circle cx="297.7" cy="579.5" r="3.7" fill="#ED7D31"/>
</g></svg>
<line x1="273.1" y1="510.5" x2="295.3" y2="542.1" stroke="#4472C4" stroke-width="2.4"/>
<polygon points="299.9,548.6 291.6,544.6 299.0,539.5" fill="#4472C4"/>
<line x1="216.9" y1="583.9" x2="194.3" y2="547.8" stroke="#4472C4" stroke-width="2.4"/>
<polygon points="190.1,541 198.2,545.4 190.5,550.2" fill="#4472C4"/>
<text transform="translate(296.8,526.3) rotate(56)" font-size="13" text-anchor="middle" dominant-baseline="central" fill="#000">Heating</text>
<text transform="translate(193.6,565.9) rotate(59)" font-size="13" text-anchor="middle" dominant-baseline="central" fill="#000">Cooling</text>
<rect x="378.6" y="484.1" width="292.79999999999995" height="187.5" fill="none" stroke="#333" stroke-width="1.6"/>
<text x="509.7" y="479.0" font-size="12" text-anchor="start" font-weight="bold" fill="#000" textLength="36.6" lengthAdjust="spacingAndGlyphs" >50 µm</text>
<line x1="449.6" x2="652.6" y1="589.7" y2="589.7" stroke="#D9D9D9" stroke-width="1.2"/>
<line x1="449.6" x2="652.6" y1="564.7" y2="564.7" stroke="#D9D9D9" stroke-width="1.2"/>
<line x1="449.6" x2="652.6" y1="539.8" y2="539.8" stroke="#D9D9D9" stroke-width="1.2"/>
<line x1="449.6" x2="652.6" y1="514.8" y2="514.8" stroke="#D9D9D9" stroke-width="1.2"/>
<line x1="517.3" x2="517.3" y1="502.3" y2="614.7" stroke="#D9D9D9" stroke-width="1.2"/>
<line x1="584.9" x2="584.9" y1="502.3" y2="614.7" stroke="#D9D9D9" stroke-width="1.2"/>
<line x1="652.6" x2="652.6" y1="502.3" y2="614.7" stroke="#D9D9D9" stroke-width="1.2"/>
<polyline points="449.6,502.3 652.6,502.3 652.6,614.7" fill="none" stroke="#222" stroke-width="1.3"/>
<line x1="449.6" x2="449.6" y1="502.3" y2="615.2" stroke="#BFBFBF" stroke-width="1.2"/>
<line x1="449.6" x2="652.6" y1="614.7" y2="614.7" stroke="#BFBFBF" stroke-width="1.2"/>
<text x="436.7" y="618.2" font-size="12" text-anchor="end" font-weight="bold" fill="#595959" >0.2</text>
<text x="436.7" y="593.7" font-size="12" text-anchor="end" font-weight="bold" fill="#595959" >0.4</text>
<text x="436.7" y="569.2" font-size="12" text-anchor="end" font-weight="bold" fill="#595959" >0.6</text>
<text x="436.7" y="543.5" font-size="12" text-anchor="end" font-weight="bold" fill="#595959" >0.8</text>
<text x="436.7" y="519.0" font-size="12" text-anchor="end" font-weight="bold" fill="#595959" >1</text>
<text x="449.2" y="637.0" font-size="12" text-anchor="middle" font-weight="bold" fill="#595959" >30</text>
<text x="517.4" y="637.0" font-size="12" text-anchor="middle" font-weight="bold" fill="#595959" >40</text>
<text x="584.4" y="637.0" font-size="12" text-anchor="middle" font-weight="bold" fill="#595959" >50</text>
<text x="651.9" y="637.0" font-size="12" text-anchor="middle" font-weight="bold" fill="#595959" >60</text>
<text x="481.2" y="656.0" font-size="12" text-anchor="start" font-weight="bold" fill="#595959" textLength="99.3" lengthAdjust="spacingAndGlyphs" >Temperature (°C)</text>
<text transform="translate(398.8,559.3) rotate(-90)" x="0" y="0" font-size="12" text-anchor="middle" font-weight="bold" fill="#595959" textLength="100.6" lengthAdjust="spacingAndGlyphs">Relative intensity</text>
<svg x="443.6" y="496.3" width="215.0" height="124.4" overflow="hidden"><g transform="translate(-443.6,-496.3)">
<polyline points="649.7,596.0 632.4,587.3 601.1,587.3 582.3,577.6 570.8,565.7 564.1,556.6 559.7,539.6 548.0,522.0 536.0,519.0" fill="none" stroke="#4472C4" stroke-width="2.2" stroke-linejoin="round"/>
<circle cx="649.7" cy="596.0" r="3.7" fill="#4472C4"/>
<circle cx="632.4" cy="587.3" r="3.7" fill="#4472C4"/>
<circle cx="601.1" cy="587.3" r="3.7" fill="#4472C4"/>
<circle cx="582.3" cy="577.6" r="3.7" fill="#4472C4"/>
<circle cx="570.8" cy="565.7" r="3.7" fill="#4472C4"/>
<circle cx="564.1" cy="556.6" r="3.7" fill="#4472C4"/>
<circle cx="559.7" cy="539.6" r="3.7" fill="#4472C4"/>
<circle cx="548.0" cy="522.0" r="3.7" fill="#4472C4"/>
<circle cx="536.0" cy="519.0" r="3.7" fill="#4472C4"/>
<polyline points="647.2,597.7 629.2,582.6 601.1,590.6 582.3,582.6 570.8,573.3 564.3,563.5 550.9,542.6 545.0,522.0 538.0,519.0" fill="none" stroke="#ED7D31" stroke-width="2.2" stroke-linejoin="round"/>
<circle cx="647.2" cy="597.7" r="3.7" fill="#ED7D31"/>
<circle cx="629.2" cy="582.6" r="3.7" fill="#ED7D31"/>
<circle cx="601.1" cy="590.6" r="3.7" fill="#ED7D31"/>
<circle cx="582.3" cy="582.6" r="3.7" fill="#ED7D31"/>
<circle cx="570.8" cy="573.3" r="3.7" fill="#ED7D31"/>
<circle cx="564.3" cy="563.5" r="3.7" fill="#ED7D31"/>
<circle cx="550.9" cy="542.6" r="3.7" fill="#ED7D31"/>
<circle cx="545.0" cy="522.0" r="3.7" fill="#ED7D31"/>
<circle cx="538.0" cy="519.0" r="3.7" fill="#ED7D31"/>
<polyline points="450.3,512.9 456.4,516.9 482.7,519.0 496.7,506.4 505.4,518.1 512.4,514.6 522.1,519.0 530.8,522.5 534.3,509.9 544.9,512.9 553.6,518.1 566.5,509.9 579.9,519.2 594.2,522.0 603.3,527.8 611.3,528.9 618.0,539.3 630.3,578.7 632.4,587.3 640.0,585.2 644.8,585.2 649.7,596.0" fill="none" stroke="#4472C4" stroke-width="2.2" stroke-linejoin="round"/>
<circle cx="456.4" cy="516.9" r="3.7" fill="#4472C4"/>
<circle cx="482.7" cy="519.0" r="3.7" fill="#4472C4"/>
<circle cx="496.7" cy="506.4" r="3.7" fill="#4472C4"/>
<circle cx="505.4" cy="518.1" r="3.7" fill="#4472C4"/>
<circle cx="512.4" cy="514.6" r="3.7" fill="#4472C4"/>
<circle cx="522.1" cy="519.0" r="3.7" fill="#4472C4"/>
<circle cx="530.8" cy="522.5" r="3.7" fill="#4472C4"/>
<circle cx="534.3" cy="509.9" r="3.7" fill="#4472C4"/>
<circle cx="544.9" cy="512.9" r="3.7" fill="#4472C4"/>
<circle cx="553.6" cy="518.1" r="3.7" fill="#4472C4"/>
<circle cx="566.5" cy="509.9" r="3.7" fill="#4472C4"/>
<circle cx="579.9" cy="519.2" r="3.7" fill="#4472C4"/>
<circle cx="594.2" cy="522.0" r="3.7" fill="#4472C4"/>
<circle cx="603.3" cy="527.8" r="3.7" fill="#4472C4"/>
<circle cx="611.3" cy="528.9" r="3.7" fill="#4472C4"/>
<circle cx="618.0" cy="539.3" r="3.7" fill="#4472C4"/>
<circle cx="630.3" cy="578.7" r="3.7" fill="#4472C4"/>
<circle cx="632.4" cy="587.3" r="3.7" fill="#4472C4"/>
<circle cx="640.0" cy="585.2" r="3.7" fill="#4472C4"/>
<circle cx="644.8" cy="585.2" r="3.7" fill="#4472C4"/>
<circle cx="649.7" cy="596.0" r="3.7" fill="#4472C4"/>
<polyline points="456.4,514.6 482.7,519.0 505.4,515.2" fill="none" stroke="#ED7D31" stroke-width="2.2" stroke-linejoin="round"/>
<circle cx="456.4" cy="514.6" r="3.7" fill="#ED7D31"/>
<circle cx="482.7" cy="519.0" r="3.7" fill="#ED7D31"/>
<circle cx="505.4" cy="515.2" r="3.7" fill="#ED7D31"/>
<polyline points="450.3,512.9 456.4,514.6 487.9,512.4 496.7,508.2 505.4,515.2 512.4,518.7 522.1,512.9 530.8,519.0 545.7,518.7 554.5,514.6 566.5,509.5 579.9,510.5 594.2,523.5 603.7,525.3 611.3,546.2 618.0,554.4 629.2,582.6 639.6,591.2 644.8,590.6 647.2,597.7" fill="none" stroke="#ED7D31" stroke-width="2.2" stroke-linejoin="round"/>
<circle cx="456.4" cy="514.6" r="3.7" fill="#ED7D31"/>
<circle cx="487.9" cy="512.4" r="3.7" fill="#ED7D31"/>
<circle cx="496.7" cy="508.2" r="3.7" fill="#ED7D31"/>
<circle cx="505.4" cy="515.2" r="3.7" fill="#ED7D31"/>
<circle cx="512.4" cy="518.7" r="3.7" fill="#ED7D31"/>
<circle cx="522.1" cy="512.9" r="3.7" fill="#ED7D31"/>
<circle cx="530.8" cy="519.0" r="3.7" fill="#ED7D31"/>
<circle cx="545.7" cy="518.7" r="3.7" fill="#ED7D31"/>
<circle cx="554.5" cy="514.6" r="3.7" fill="#ED7D31"/>
<circle cx="566.5" cy="509.5" r="3.7" fill="#ED7D31"/>
<circle cx="579.9" cy="510.5" r="3.7" fill="#ED7D31"/>
<circle cx="594.2" cy="523.5" r="3.7" fill="#ED7D31"/>
<circle cx="603.7" cy="525.3" r="3.7" fill="#ED7D31"/>
<circle cx="611.3" cy="546.2" r="3.7" fill="#ED7D31"/>
<circle cx="618.0" cy="554.4" r="3.7" fill="#ED7D31"/>
<circle cx="629.2" cy="582.6" r="3.7" fill="#ED7D31"/>
<circle cx="639.6" cy="591.2" r="3.7" fill="#ED7D31"/>
<circle cx="644.8" cy="590.6" r="3.7" fill="#ED7D31"/>
<circle cx="647.2" cy="597.7" r="3.7" fill="#ED7D31"/>
</g></svg>
<rect x="35.3" y="701.7" width="293.9" height="175.29999999999995" fill="none" stroke="#333" stroke-width="1.6"/>
<text x="177.2" y="694.0" font-size="12" text-anchor="start" font-weight="bold" fill="#000" textLength="36.5" lengthAdjust="spacingAndGlyphs" >20 µm</text>
<line x1="107.2" x2="310.0" y1="793.4" y2="793.4" stroke="#D9D9D9" stroke-width="1.2"/>
<line x1="107.2" x2="310.0" y1="763.5" y2="763.5" stroke="#D9D9D9" stroke-width="1.2"/>
<line x1="107.2" x2="310.0" y1="733.6" y2="733.6" stroke="#D9D9D9" stroke-width="1.2"/>
<line x1="174.8" x2="174.8" y1="718.6" y2="823.3" stroke="#D9D9D9" stroke-width="1.2"/>
<line x1="242.4" x2="242.4" y1="718.6" y2="823.3" stroke="#D9D9D9" stroke-width="1.2"/>
<line x1="310.0" x2="310.0" y1="718.6" y2="823.3" stroke="#D9D9D9" stroke-width="1.2"/>
<polyline points="107.2,718.6 310.0,718.6 310.0,823.3" fill="none" stroke="#222" stroke-width="1.3"/>
<line x1="107.2" x2="107.2" y1="718.6" y2="823.8" stroke="#BFBFBF" stroke-width="1.2"/>
<line x1="107.2" x2="310.0" y1="823.3" y2="823.3" stroke="#BFBFBF" stroke-width="1.2"/>
<text x="94.0" y="826.7" font-size="12" text-anchor="end" font-weight="bold" fill="#595959" >0.4</text>
<text x="94.0" y="797.4" font-size="12" text-anchor="end" font-weight="bold" fill="#595959" >0.6</text>
<text x="94.0" y="767.2" font-size="12" text-anchor="end" font-weight="bold" fill="#595959" >0.8</text>
<text x="94.0" y="737.6" font-size="12" text-anchor="end" font-weight="bold" fill="#595959" >1</text>
<text x="107.2" y="846.2" font-size="12" text-anchor="middle" font-weight="bold" fill="#595959" >30</text>
<text x="173.7" y="846.2" font-size="12" text-anchor="middle" font-weight="bold" fill="#595959" >40</text>
<text x="241.6" y="846.2" font-size="12" text-anchor="middle" font-weight="bold" fill="#595959" >50</text>
<text x="308.5" y="846.2" font-size="12" text-anchor="middle" font-weight="bold" fill="#595959" >60</text>
<text x="149.8" y="863.9" font-size="12" text-anchor="start" font-weight="bold" fill="#595959" textLength="99.8" lengthAdjust="spacingAndGlyphs" >Temperature (°C)</text>
<text transform="translate(55.2,775.2) rotate(-90)" x="0" y="0" font-size="12" text-anchor="middle" font-weight="bold" fill="#595959" textLength="100.4" lengthAdjust="spacingAndGlyphs">Relative Intensity</text>
<svg x="101.2" y="712.6" width="214.8" height="116.6" overflow="hidden"><g transform="translate(-101.2,-712.6)">
<polyline points="304.5,777.8 289.7,782.6 259.0,768.3 239.4,764.0 228.4,759.2 221.8,754.7 210.0,747.4 195.8,742.1 187.7,740.8 179.3,736.0 170.6,738.9" fill="none" stroke="#ED7D31" stroke-width="2.2" stroke-linejoin="round"/>
<circle cx="304.5" cy="777.8" r="3.7" fill="#ED7D31"/>
<circle cx="289.7" cy="782.6" r="3.7" fill="#ED7D31"/>
<circle cx="259.0" cy="768.3" r="3.7" fill="#ED7D31"/>
<circle cx="239.4" cy="764.0" r="3.7" fill="#ED7D31"/>
<circle cx="228.4" cy="759.2" r="3.7" fill="#ED7D31"/>
<circle cx="221.8" cy="754.7" r="3.7" fill="#ED7D31"/>
<circle cx="210.0" cy="747.4" r="3.7" fill="#ED7D31"/>
<circle cx="195.8" cy="742.1" r="3.7" fill="#ED7D31"/>
<circle cx="187.7" cy="740.8" r="3.7" fill="#ED7D31"/>
<circle cx="179.3" cy="736.0" r="3.7" fill="#ED7D31"/>
<circle cx="170.6" cy="738.9" r="3.7" fill="#ED7D31"/>
<polyline points="107.2,736.0 113.7,737.6 145.0,732.3 153.7,732.6 163.6,726.6 170.6,738.9 179.3,730.0 191.7,725.2 203.4,728.8 212.0,733.8 224.8,731.0 238.1,729.0 251.8,741.8 261.2,727.1 269.4,737.6 276.0,752.2 286.9,756.6 297.3,774.0 304.5,777.8" fill="none" stroke="#ED7D31" stroke-width="2.2" stroke-linejoin="round"/>
<circle cx="113.7" cy="737.6" r="3.7" fill="#ED7D31"/>
<circle cx="145.0" cy="732.3" r="3.7" fill="#ED7D31"/>
<circle cx="153.7" cy="732.6" r="3.7" fill="#ED7D31"/>
<circle cx="163.6" cy="726.6" r="3.7" fill="#ED7D31"/>
<circle cx="170.6" cy="738.9" r="3.7" fill="#ED7D31"/>
<circle cx="179.3" cy="730.0" r="3.7" fill="#ED7D31"/>
<circle cx="191.7" cy="725.2" r="3.7" fill="#ED7D31"/>
<circle cx="203.4" cy="728.8" r="3.7" fill="#ED7D31"/>
<circle cx="212.0" cy="733.8" r="3.7" fill="#ED7D31"/>
<circle cx="224.8" cy="731.0" r="3.7" fill="#ED7D31"/>
<circle cx="238.1" cy="729.0" r="3.7" fill="#ED7D31"/>
<circle cx="251.8" cy="741.8" r="3.7" fill="#ED7D31"/>
<circle cx="261.2" cy="727.1" r="3.7" fill="#ED7D31"/>
<circle cx="269.4" cy="737.6" r="3.7" fill="#ED7D31"/>
<circle cx="276.0" cy="752.2" r="3.7" fill="#ED7D31"/>
<circle cx="286.9" cy="756.6" r="3.7" fill="#ED7D31"/>
<circle cx="297.3" cy="774.0" r="3.7" fill="#ED7D31"/>
<circle cx="304.5" cy="777.8" r="3.7" fill="#ED7D31"/>
<polyline points="107.2,743.3 113.7,744.0 145.0,745.2 153.7,753.5 163.6,736.4 170.2,745.0 180.7,745.5 187.9,751.8 195.8,760.7 208.6,755.4 221.8,769.7 228.4,776.9 239.4,778.8 259.0,779.3 289.7,793.4 297.3,791.5" fill="none" stroke="#4472C4" stroke-width="2.2" stroke-linejoin="round"/>
<circle cx="113.7" cy="744.0" r="3.7" fill="#4472C4"/>
<circle cx="145.0" cy="745.2" r="3.7" fill="#4472C4"/>
<circle cx="153.7" cy="753.5" r="3.7" fill="#4472C4"/>
<circle cx="163.6" cy="736.4" r="3.7" fill="#4472C4"/>
<circle cx="170.2" cy="745.0" r="3.7" fill="#4472C4"/>
<circle cx="180.7" cy="745.5" r="3.7" fill="#4472C4"/>
<circle cx="187.9" cy="751.8" r="3.7" fill="#4472C4"/>
<circle cx="195.8" cy="760.7" r="3.7" fill="#4472C4"/>
<circle cx="208.6" cy="755.4" r="3.7" fill="#4472C4"/>
<circle cx="221.8" cy="769.7" r="3.7" fill="#4472C4"/>
<circle cx="228.4" cy="776.9" r="3.7" fill="#4472C4"/>
<circle cx="239.4" cy="778.8" r="3.7" fill="#4472C4"/>
<circle cx="259.0" cy="779.3" r="3.7" fill="#4472C4"/>
<circle cx="289.7" cy="793.4" r="3.7" fill="#4472C4"/>
<circle cx="297.3" cy="791.5" r="3.7" fill="#4472C4"/>
<polyline points="107.2,733.8 139.5,734.5 169.8,730.7 179.7,737.0 192.0,737.4 203.4,740.8 211.6,736.1 224.8,729.4 238.1,737.6 251.8,745.5 261.2,754.1 269.8,746.5 276.0,766.4 286.9,781.2 297.3,791.5 302.0,786.4 304.9,789.6" fill="none" stroke="#4472C4" stroke-width="2.2" stroke-linejoin="round"/>
<circle cx="139.5" cy="734.5" r="3.7" fill="#4472C4"/>
<circle cx="169.8" cy="730.7" r="3.7" fill="#4472C4"/>
<circle cx="179.7" cy="737.0" r="3.7" fill="#4472C4"/>
<circle cx="192.0" cy="737.4" r="3.7" fill="#4472C4"/>
<circle cx="203.4" cy="740.8" r="3.7" fill="#4472C4"/>
<circle cx="211.6" cy="736.1" r="3.7" fill="#4472C4"/>
<circle cx="224.8" cy="729.4" r="3.7" fill="#4472C4"/>
<circle cx="238.1" cy="737.6" r="3.7" fill="#4472C4"/>
<circle cx="251.8" cy="745.5" r="3.7" fill="#4472C4"/>
<circle cx="261.2" cy="754.1" r="3.7" fill="#4472C4"/>
<circle cx="269.8" cy="746.5" r="3.7" fill="#4472C4"/>
<circle cx="276.0" cy="766.4" r="3.7" fill="#4472C4"/>
<circle cx="286.9" cy="781.2" r="3.7" fill="#4472C4"/>
<circle cx="297.3" cy="791.5" r="3.7" fill="#4472C4"/>
<circle cx="302.0" cy="786.4" r="3.7" fill="#4472C4"/>
<circle cx="304.9" cy="789.6" r="3.7" fill="#4472C4"/>
</g></svg>
<rect x="383.3" y="701.6" width="287.99999999999994" height="175.39999999999998" fill="none" stroke="#333" stroke-width="1.6"/>
<text x="513.8" y="694.0" font-size="12" text-anchor="start" font-weight="bold" fill="#000" textLength="35.0" lengthAdjust="spacingAndGlyphs" >10 µm</text>
<line x1="454.9" x2="648.2" y1="794.8" y2="794.8" stroke="#D9D9D9" stroke-width="1.2"/>
<line x1="454.9" x2="648.2" y1="761.4" y2="761.4" stroke="#D9D9D9" stroke-width="1.2"/>
<line x1="454.9" x2="648.2" y1="728.1" y2="728.1" stroke="#D9D9D9" stroke-width="1.2"/>
<line x1="519.3" x2="519.3" y1="711.4" y2="828.1" stroke="#D9D9D9" stroke-width="1.2"/>
<line x1="583.8" x2="583.8" y1="711.4" y2="828.1" stroke="#D9D9D9" stroke-width="1.2"/>
<line x1="648.2" x2="648.2" y1="711.4" y2="828.1" stroke="#D9D9D9" stroke-width="1.2"/>
<line x1="454.9" x2="454.9" y1="711.4" y2="828.6" stroke="#BFBFBF" stroke-width="1.2"/>
<line x1="454.9" x2="648.2" y1="828.1" y2="828.1" stroke="#BFBFBF" stroke-width="1.2"/>
<text x="441.7" y="831.7" font-size="12" text-anchor="end" font-weight="bold" fill="#595959" >0.4</text>
<text x="441.7" y="799.1" font-size="12" text-anchor="end" font-weight="bold" fill="#595959" >0.6</text>
<text x="441.7" y="764.9" font-size="12" text-anchor="end" font-weight="bold" fill="#595959" >0.8</text>
<text x="441.7" y="732.3" font-size="12" text-anchor="end" font-weight="bold" fill="#595959" >1</text>
<text x="454.6" y="850.5" font-size="12" text-anchor="middle" font-weight="bold" fill="#595959" >30</text>
<text x="519.2" y="850.5" font-size="12" text-anchor="middle" font-weight="bold" fill="#595959" >40</text>
<text x="583.9" y="850.5" font-size="12" text-anchor="middle" font-weight="bold" fill="#595959" >50</text>
<text x="648.2" y="850.5" font-size="12" text-anchor="middle" font-weight="bold" fill="#595959" >60</text>
<text x="478.2" y="865.5" font-size="12" text-anchor="start" font-weight="bold" fill="#595959" textLength="100.4" lengthAdjust="spacingAndGlyphs" >Temperature (°C)</text>
<text transform="translate(403.2,768.6) rotate(-90)" x="0" y="0" font-size="12" text-anchor="middle" font-weight="bold" fill="#595959" textLength="80.3" lengthAdjust="spacingAndGlyphs">Rel. Minimum</text>
<svg x="448.9" y="705.4" width="205.3" height="128.7" overflow="hidden"><g transform="translate(-448.9,-705.4)">
<polyline points="454.9,730.7 485.9,724.5 514.5,735.9 523.9,724.2 535.5,725.4 546.4,743.4 554.2,740.8 566.8,735.4 579.6,732.4 592.9,733.9 602.1,752.5 610.0,777.4 616.0,799.2 626.7,788.1 636.4,802.4 641.3,807.4 643.9,819.6" fill="none" stroke="#ED7D31" stroke-width="2.2" stroke-linejoin="round"/>
<circle cx="485.9" cy="724.5" r="3.7" fill="#ED7D31"/>
<circle cx="514.5" cy="735.9" r="3.7" fill="#ED7D31"/>
<circle cx="523.9" cy="724.2" r="3.7" fill="#ED7D31"/>
<circle cx="535.5" cy="725.4" r="3.7" fill="#ED7D31"/>
<circle cx="546.4" cy="743.4" r="3.7" fill="#ED7D31"/>
<circle cx="554.2" cy="740.8" r="3.7" fill="#ED7D31"/>
<circle cx="566.8" cy="735.4" r="3.7" fill="#ED7D31"/>
<circle cx="579.6" cy="732.4" r="3.7" fill="#ED7D31"/>
<circle cx="592.9" cy="733.9" r="3.7" fill="#ED7D31"/>
<circle cx="602.1" cy="752.5" r="3.7" fill="#ED7D31"/>
<circle cx="610.0" cy="777.4" r="3.7" fill="#ED7D31"/>
<circle cx="616.0" cy="799.2" r="3.7" fill="#ED7D31"/>
<circle cx="626.7" cy="788.1" r="3.7" fill="#ED7D31"/>
<circle cx="636.4" cy="802.4" r="3.7" fill="#ED7D31"/>
<circle cx="641.3" cy="807.4" r="3.7" fill="#ED7D31"/>
<circle cx="643.9" cy="819.6" r="3.7" fill="#ED7D31"/>
<polyline points="454.9,750.8 461.4,755.7 491.2,740.3 499.6,733.3 508.7,743.8 515.2,743.4 524.5,752.6 532.3,748.7 539.7,759.2 552.0,783.7 564.0,792.4 570.4,801.4 581.8,786.4 598.9,795.0 616.0,799.2 628.9,805.2 643.9,819.6" fill="none" stroke="#ED7D31" stroke-width="2.2" stroke-linejoin="round"/>
<circle cx="461.4" cy="755.7" r="3.7" fill="#ED7D31"/>
<circle cx="491.2" cy="740.3" r="3.7" fill="#ED7D31"/>
<circle cx="499.6" cy="733.3" r="3.7" fill="#ED7D31"/>
<circle cx="508.7" cy="743.8" r="3.7" fill="#ED7D31"/>
<circle cx="515.2" cy="743.4" r="3.7" fill="#ED7D31"/>
<circle cx="524.5" cy="752.6" r="3.7" fill="#ED7D31"/>
<circle cx="532.3" cy="748.7" r="3.7" fill="#ED7D31"/>
<circle cx="539.7" cy="759.2" r="3.7" fill="#ED7D31"/>
<circle cx="552.0" cy="783.7" r="3.7" fill="#ED7D31"/>
<circle cx="564.0" cy="792.4" r="3.7" fill="#ED7D31"/>
<circle cx="570.4" cy="801.4" r="3.7" fill="#ED7D31"/>
<circle cx="581.8" cy="786.4" r="3.7" fill="#ED7D31"/>
<circle cx="598.9" cy="795.0" r="3.7" fill="#ED7D31"/>
<circle cx="616.0" cy="799.2" r="3.7" fill="#ED7D31"/>
<circle cx="628.9" cy="805.2" r="3.7" fill="#ED7D31"/>
<circle cx="643.9" cy="819.6" r="3.7" fill="#ED7D31"/>
</g></svg>
</svg>
</body></html>
